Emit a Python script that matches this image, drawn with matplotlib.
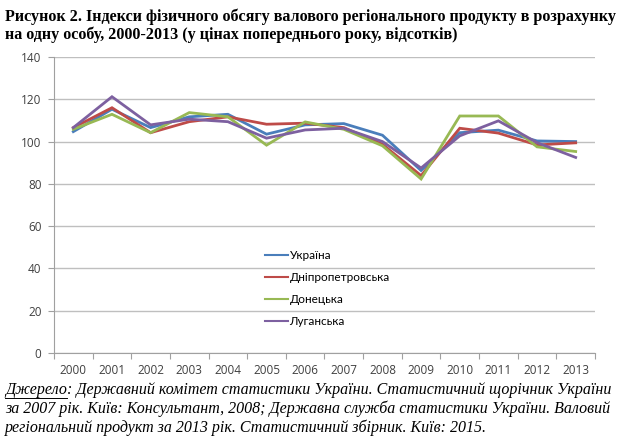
import matplotlib
matplotlib.use("Agg")
import matplotlib.pyplot as plt
import numpy as np

years = ["2000", "2001", "2002", "2003", "2004", "2005", "2006",
         "2007", "2008", "2009", "2010", "2011", "2012", "2013"]
ukraine = [104.7, 115.3, 106.6, 111.7, 112.9, 103.5, 107.9, 108.5, 103.0, 86.3, 104.2, 105.4, 100.3, 100.0]
dnipro = [106.6, 116.0, 104.2, 109.4, 111.7, 108.2, 108.7, 106.6, 98.7, 83.9, 106.3, 104.0, 98.4, 99.4]
donetsk = [105.8, 112.9, 104.2, 113.7, 111.7, 98.3, 109.3, 105.8, 98.0, 82.3, 112.1, 112.1, 97.5, 95.3]
luhansk = [106.6, 121.2, 107.9, 110.6, 109.4, 101.6, 105.5, 106.3, 100.0, 87.5, 102.7, 109.8, 99.5, 92.5]
series_names = ["Україна", "Дніпропетровська", "Донецька", "Луганська"]
yticks = [0, 20, 40, 60, 80, 100, 120, 140]

colors = ["#4A7EBB", "#BE4B48", "#98B954", "#7D60A0"]

fig = plt.figure(figsize=(6.25, 4.46), dpi=100)
ax = fig.add_axes([54/625, 1-353/446, (595-54)/625, (353-57)/446])

x = np.arange(len(years))
for vals, name, c in zip([ukraine, dnipro, donetsk, luhansk], series_names, colors):
    ax.plot(x, vals, color=c, lw=2.0, label=name, solid_joinstyle="miter")

ax.set_xlim(-0.5, len(years) - 0.5)
ax.set_ylim(0, 140)
ax.set_yticks(yticks)
ax.set_yticklabels([str(v) for v in yticks], fontsize=8.5, family="Open Sans", color="#404040")
ax.set_xticks(x)
ax.set_xticklabels(years, fontsize=8.5, family="Open Sans", color="#404040")
ax.tick_params(axis="x", which="major", length=0, pad=8)
ax.set_xticks(np.arange(-0.5, len(years)), minor=True)
ax.tick_params(axis="x", which="minor", length=4, color="#A0A0A0", width=0.8)
ax.tick_params(axis="y", length=4, color="#A0A0A0", width=0.8, pad=5)
ax.grid(axis="y", color="#BFBFBF", lw=1.0)
ax.set_axisbelow(True)
for s in ["top", "right"]:
    ax.spines[s].set_visible(False)
ax.spines["left"].set_color("#A0A0A0")
ax.spines["bottom"].set_color("#A0A0A0")
ax.spines["left"].set_linewidth(0.8)
ax.spines["bottom"].set_linewidth(0.8)

leg = ax.legend(loc="upper left", bbox_to_anchor=(0.37, 0.385), frameon=False,
                prop={"family": "Lato", "size": 8.5}, handlelength=2.0,
                handletextpad=0.1, labelspacing=0.95)
for h in leg.get_lines():
    h.set_linewidth(1.5)

tfont = dict(family="Liberation Serif", weight="bold", fontsize=11.6, va="center", ha="left")
fig.text(5/625, 1-17/446, "Рисунок 2. Індекси фізичного обсягу валового регіонального продукту в розрахунку", **tfont)
fig.text(5/625, 1-35/446, "на одну особу, 2000-2013 (у цінах попереднього року, відсотків)", **tfont)

src = [": Державний комітет статистики України. Статистичний щорічник України",
       "за 2007 рік. Київ: Консультант, 2008; Державна служба статистики України. Валовий",
       "регіональний продукт за 2013 рік. Статистичний збірник. Київ: 2015."]
sfont = dict(family="Liberation Serif", style="italic", fontsize=11.5, va="center", ha="left")
t0 = fig.text(5/625, 1-390/446, "Джерело", **sfont)
fig.canvas.draw()
bb = t0.get_window_extent()
fig.text(bb.x1/625, 1-390/446, src[0], **sfont)
fig.add_artist(plt.Line2D([bb.x0/625, bb.x1/625], [1-398/446, 1-398/446], color="black", lw=0.7))
fig.text(5/625, 1-409/446, src[1], **sfont)
fig.text(5/625, 1-428/446, src[2], **sfont)

fig.savefig("out.png", dpi=100)
